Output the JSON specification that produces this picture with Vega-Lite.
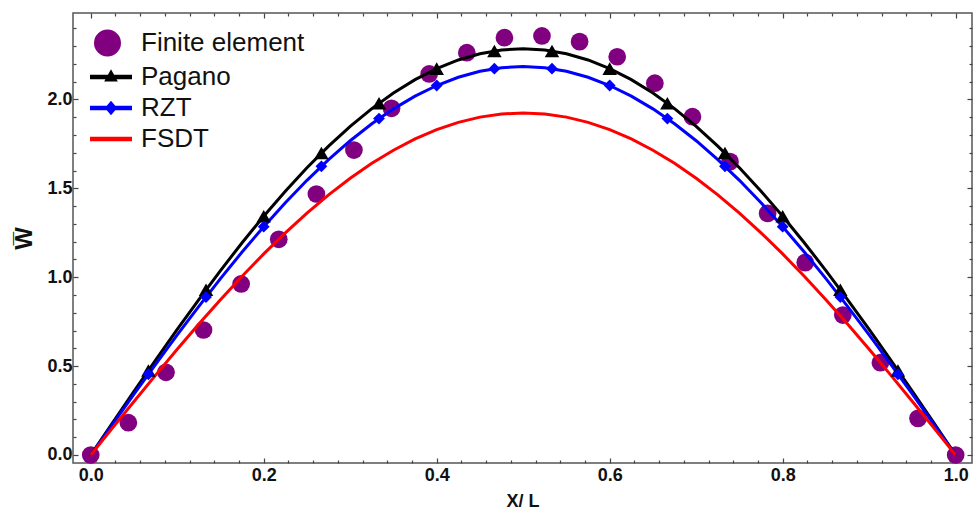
{
  "$schema": "https://vega.github.io/schema/vega-lite/v6.json",
  "width": 899,
  "height": 450,
  "autosize": "none",
  "padding": {"left": 73, "top": 13, "right": 1, "bottom": 47},
  "background": "white",
  "config": {
    "view": {"stroke": "#555555", "strokeWidth": 1.5},
    "font": "Liberation Sans"
  },
  "datasets": {
    "fe": [
      {"x": 0, "w": 0}, {"x": 0.0435, "w": 0.182}, {"x": 0.087, "w": 0.465}, {"x": 0.1304, "w": 0.703},
      {"x": 0.1739, "w": 0.962}, {"x": 0.2174, "w": 1.213}, {"x": 0.2609, "w": 1.468}, {"x": 0.3043, "w": 1.715},
      {"x": 0.3478, "w": 1.95}, {"x": 0.3913, "w": 2.143}, {"x": 0.4348, "w": 2.263}, {"x": 0.4783, "w": 2.347},
      {"x": 0.5217, "w": 2.357}, {"x": 0.5652, "w": 2.325}, {"x": 0.6087, "w": 2.24}, {"x": 0.6522, "w": 2.091},
      {"x": 0.6957, "w": 1.903}, {"x": 0.7391, "w": 1.65}, {"x": 0.7826, "w": 1.359}, {"x": 0.8261, "w": 1.082},
      {"x": 0.8696, "w": 0.787}, {"x": 0.913, "w": 0.519}, {"x": 0.9565, "w": 0.206}, {"x": 1.0, "w": 0}
    ],
    "curves": [
      {"x": 0, "Pagano": 0, "RZT": 0, "FSDT": 0},
      {"x": 0.025, "Pagano": 0.1793, "RZT": 0.1714, "FSDT": 0.151},
      {"x": 0.05, "Pagano": 0.3575, "RZT": 0.3418, "FSDT": 0.301},
      {"x": 0.075, "Pagano": 0.5334, "RZT": 0.5101, "FSDT": 0.4491},
      {"x": 0.1, "Pagano": 0.7061, "RZT": 0.6752, "FSDT": 0.5945},
      {"x": 0.125, "Pagano": 0.8744, "RZT": 0.8362, "FSDT": 0.7363},
      {"x": 0.15, "Pagano": 1.0374, "RZT": 0.992, "FSDT": 0.8735},
      {"x": 0.175, "Pagano": 1.1939, "RZT": 1.1417, "FSDT": 1.0053},
      {"x": 0.2, "Pagano": 1.3431, "RZT": 1.2843, "FSDT": 1.1309},
      {"x": 0.225, "Pagano": 1.484, "RZT": 1.419, "FSDT": 1.2495},
      {"x": 0.25, "Pagano": 1.6157, "RZT": 1.545, "FSDT": 1.3605},
      {"x": 0.275, "Pagano": 1.7375, "RZT": 1.6615, "FSDT": 1.463},
      {"x": 0.3, "Pagano": 1.8486, "RZT": 1.7677, "FSDT": 1.5565},
      {"x": 0.325, "Pagano": 1.9483, "RZT": 1.863, "FSDT": 1.6405},
      {"x": 0.35, "Pagano": 2.036, "RZT": 1.9469, "FSDT": 1.7143},
      {"x": 0.375, "Pagano": 2.1111, "RZT": 2.0187, "FSDT": 1.7775},
      {"x": 0.4, "Pagano": 2.1732, "RZT": 2.0781, "FSDT": 1.8298},
      {"x": 0.425, "Pagano": 2.2219, "RZT": 2.1246, "FSDT": 1.8708},
      {"x": 0.45, "Pagano": 2.2569, "RZT": 2.1581, "FSDT": 1.9003},
      {"x": 0.475, "Pagano": 2.278, "RZT": 2.1783, "FSDT": 1.9181},
      {"x": 0.5, "Pagano": 2.285, "RZT": 2.185, "FSDT": 1.924},
      {"x": 0.525, "Pagano": 2.278, "RZT": 2.1783, "FSDT": 1.9181},
      {"x": 0.55, "Pagano": 2.2569, "RZT": 2.1581, "FSDT": 1.9003},
      {"x": 0.575, "Pagano": 2.2219, "RZT": 2.1246, "FSDT": 1.8708},
      {"x": 0.6, "Pagano": 2.1732, "RZT": 2.0781, "FSDT": 1.8298},
      {"x": 0.625, "Pagano": 2.1111, "RZT": 2.0187, "FSDT": 1.7775},
      {"x": 0.65, "Pagano": 2.036, "RZT": 1.9469, "FSDT": 1.7143},
      {"x": 0.675, "Pagano": 1.9483, "RZT": 1.863, "FSDT": 1.6405},
      {"x": 0.7, "Pagano": 1.8486, "RZT": 1.7677, "FSDT": 1.5565},
      {"x": 0.725, "Pagano": 1.7375, "RZT": 1.6615, "FSDT": 1.463},
      {"x": 0.75, "Pagano": 1.6157, "RZT": 1.545, "FSDT": 1.3605},
      {"x": 0.775, "Pagano": 1.484, "RZT": 1.419, "FSDT": 1.2495},
      {"x": 0.8, "Pagano": 1.3431, "RZT": 1.2843, "FSDT": 1.1309},
      {"x": 0.825, "Pagano": 1.1939, "RZT": 1.1417, "FSDT": 1.0053},
      {"x": 0.85, "Pagano": 1.0374, "RZT": 0.992, "FSDT": 0.8735},
      {"x": 0.875, "Pagano": 0.8744, "RZT": 0.8362, "FSDT": 0.7363},
      {"x": 0.9, "Pagano": 0.7061, "RZT": 0.6752, "FSDT": 0.5945},
      {"x": 0.925, "Pagano": 0.5334, "RZT": 0.5101, "FSDT": 0.4491},
      {"x": 0.95, "Pagano": 0.3575, "RZT": 0.3418, "FSDT": 0.301},
      {"x": 0.975, "Pagano": 0.1793, "RZT": 0.1714, "FSDT": 0.151},
      {"x": 1.0, "Pagano": 0, "RZT": 0, "FSDT": 0}
    ],
    "markers": [
      {"x": 0.0667, "Pagano": 0.4751, "RZT": 0.4543},
      {"x": 0.1333, "Pagano": 0.9294, "RZT": 0.8887},
      {"x": 0.2, "Pagano": 1.3431, "RZT": 1.2843},
      {"x": 0.2667, "Pagano": 1.6981, "RZT": 1.6238},
      {"x": 0.3333, "Pagano": 1.9789, "RZT": 1.8923},
      {"x": 0.4, "Pagano": 2.1732, "RZT": 2.0781},
      {"x": 0.4667, "Pagano": 2.2725, "RZT": 2.173},
      {"x": 0.5333, "Pagano": 2.2725, "RZT": 2.173},
      {"x": 0.6, "Pagano": 2.1732, "RZT": 2.0781},
      {"x": 0.6667, "Pagano": 1.9789, "RZT": 1.8923},
      {"x": 0.7333, "Pagano": 1.6981, "RZT": 1.6238},
      {"x": 0.8, "Pagano": 1.3431, "RZT": 1.2843},
      {"x": 0.8667, "Pagano": 0.9294, "RZT": 0.8887},
      {"x": 0.9333, "Pagano": 0.4751, "RZT": 0.4543}
    ]
  },
  "layer": [
    {
      "encoding": {
        "x": {
          "field": "x", "type": "quantitative",
          "scale": {"domain": [-0.0205, 1.0189], "nice": false, "zero": false},
          "axis": {
            "title": "X/ L",
            "values": [0, 0.028571, 0.057143, 0.085714, 0.114286, 0.142857, 0.171429, 0.2, 0.228571, 0.257143, 0.285714, 0.314286, 0.342857, 0.371429, 0.4, 0.428571, 0.457143, 0.485714, 0.514286, 0.542857, 0.571429, 0.6, 0.628571, 0.657143, 0.685714, 0.714286, 0.742857, 0.771429, 0.8, 0.828571, 0.857143, 0.885714, 0.914286, 0.942857, 0.971429, 1.0],
            "grid": false, "domain": false,
            "labelExpr": "abs(datum.value*5-round(datum.value*5))<0.001 ? format(datum.value,'.1f') : ''",
            "tickSize": {"condition": {"test": "abs(datum.value*5-round(datum.value*5))<0.001", "value": -5}, "value": -3},
            "tickColor": "#444444", "tickWidth": 1.2,
            "labelFont": "Liberation Sans", "labelFontSize": 18, "labelFontWeight": "bold", "labelColor": "#111111",
            "labelPadding": 8, "labelFlush": false, "labelOverlap": false,
            "titleFont": "Liberation Sans", "titleFontSize": 18, "titleFontWeight": "bold", "titleColor": "#111111", "titlePadding": 6
          }
        },
        "y": {
          "field": "w", "type": "quantitative",
          "scale": {"domain": [-0.045, 2.486], "nice": false, "zero": false},
          "axis": {
            "title": "W\u0305",
            "values": [0, 0.1, 0.2, 0.3, 0.4, 0.5, 0.6, 0.7, 0.8, 0.9, 1.0, 1.1, 1.2, 1.3, 1.4, 1.5, 1.6, 1.7, 1.8, 1.9, 2.0, 2.1, 2.2, 2.3, 2.4],
            "grid": false, "domain": false,
            "labelExpr": "abs(datum.value*2-round(datum.value*2))<0.001 ? format(datum.value,'.1f') : ''",
            "tickSize": {"condition": {"test": "abs(datum.value*2-round(datum.value*2))<0.001", "value": -5}, "value": -3},
            "tickColor": "#444444", "tickWidth": 1.2,
            "labelFont": "Liberation Sans", "labelFontSize": 18, "labelFontWeight": "bold", "labelColor": "#111111",
            "labelPadding": 6, "labelFlush": false, "labelOverlap": false,
            "titleFont": "Liberation Sans", "titleFontSize": 24, "titleFontWeight": "bold", "titleColor": "#111111", "titlePadding": 10
          }
        }
      },
      "layer": [
        {
          "data": {"name": "fe"},
          "mark": {"type": "circle", "size": 314, "color": "#800080", "opacity": 1}
        },
        {
          "data": {"name": "curves"},
          "transform": [{"fold": ["Pagano", "RZT", "FSDT"], "as": ["series", "w"]}],
          "mark": {"type": "line", "strokeWidth": 3},
          "encoding": {
            "color": {"field": "series", "type": "nominal", "scale": {"domain": ["Pagano", "RZT", "FSDT"], "range": ["#000000", "#0000ff", "#ff0000"]}, "legend": null}
          }
        },
        {
          "data": {"name": "markers"},
          "transform": [{"fold": ["Pagano"], "as": ["series", "w"]}],
          "mark": {"type": "point", "shape": "triangle-up", "filled": true, "opacity": 1, "size": 210, "color": "#000000"}
        },
        {
          "data": {"name": "markers"},
          "transform": [{"fold": ["RZT"], "as": ["series", "w"]}],
          "mark": {"type": "point", "shape": "diamond", "filled": true, "opacity": 1, "size": 140, "color": "#0000ff"}
        },
        {
          "data": {"name": "curves"},
          "transform": [{"fold": ["Pagano", "RZT", "FSDT"], "as": ["series", "w"]}, {"filter": "datum.x > 5"}],
          "mark": {"type": "point", "filled": true, "opacity": 1, "strokeWidth": 4.5, "strokeJoin": "round"},
          "encoding": {
            "fill": {"field": "series", "type": "nominal",
              "scale": {"domain": ["Finite element", "Pagano", "RZT", "FSDT"], "range": ["#800080", "#000000", "#0000ff", "#ff0000"]},
              "legend": {"title": null, "orient": "none", "legendX": 25, "legendY": 17, "padding": 0, "symbolSize": 400, "symbolStrokeWidth": 4.5, "labelFont": "Liberation Sans", "labelFontSize": 26, "labelColor": "#111111", "labelOffset": 17, "labelLimit": 600, "rowPadding": -12}},
            "stroke": {"field": "series", "type": "nominal",
              "scale": {"domain": ["Finite element", "Pagano", "RZT", "FSDT"], "range": ["#800080", "#000000", "#0000ff", "#ff0000"]},
              "legend": {"title": null, "orient": "none", "legendX": 25, "legendY": 17, "padding": 0, "symbolSize": 400, "symbolStrokeWidth": 4.5, "labelFont": "Liberation Sans", "labelFontSize": 26, "labelColor": "#111111", "labelOffset": 17, "labelLimit": 600, "rowPadding": -12}},
            "shape": {"field": "series", "type": "nominal",
              "scale": {"domain": ["Finite element", "Pagano", "RZT", "FSDT"], "range": [
                "M-1.475,0A1.125,1.125,0,1,0,0.775,0A1.125,1.125,0,1,0,-1.475,0Z",
                "M0,-0.9M0,0.9M-2.1,0H2.1M0,-0.32L0.3,0.22L-0.3,0.22Z",
                "M0,-0.9M0,0.9M-2.1,0H2.1M0,-0.38L0.32,0L0,0.38L-0.32,0Z",
                "M0,-0.9M0,0.9M-2.1,0H2.1"]},
              "legend": {"title": null, "orient": "none", "legendX": 25, "legendY": 17, "padding": 0, "symbolSize": 400, "symbolStrokeWidth": 4.5, "labelFont": "Liberation Sans", "labelFontSize": 26, "labelColor": "#111111", "labelOffset": 17, "labelLimit": 600, "rowPadding": -12}}
          }
        }
      ]
    },
    {
      "data": {"name": "fe"},
      "transform": [{"filter": "datum.x > 5"}],
      "mark": {"type": "point", "opacity": 0},
      "encoding": {
        "x": {
          "field": "x", "type": "quantitative",
          "scale": {"domain": [-0.0205, 1.0189], "nice": false, "zero": false},
          "axis": {
            "orient": "top", "title": null, "labels": false, "grid": false, "domain": false,
            "values": [0, 0.028571, 0.057143, 0.085714, 0.114286, 0.142857, 0.171429, 0.2, 0.228571, 0.257143, 0.285714, 0.314286, 0.342857, 0.371429, 0.4, 0.428571, 0.457143, 0.485714, 0.514286, 0.542857, 0.571429, 0.6, 0.628571, 0.657143, 0.685714, 0.714286, 0.742857, 0.771429, 0.8, 0.828571, 0.857143, 0.885714, 0.914286, 0.942857, 0.971429, 1.0],
            "tickSize": {"condition": {"test": "abs(datum.value*5-round(datum.value*5))<0.001", "value": -5}, "value": -3},
            "tickColor": "#444444", "tickWidth": 1.2
          }
        },
        "y": {
          "field": "w", "type": "quantitative",
          "scale": {"domain": [-0.045, 2.486], "nice": false, "zero": false},
          "axis": {
            "orient": "right", "title": null, "labels": false, "grid": false, "domain": false,
            "values": [0, 0.1, 0.2, 0.3, 0.4, 0.5, 0.6, 0.7, 0.8, 0.9, 1.0, 1.1, 1.2, 1.3, 1.4, 1.5, 1.6, 1.7, 1.8, 1.9, 2.0, 2.1, 2.2, 2.3, 2.4],
            "tickSize": {"condition": {"test": "abs(datum.value*2-round(datum.value*2))<0.001", "value": -5}, "value": -3},
            "tickColor": "#444444", "tickWidth": 1.2
          }
        }
      }
    }
  ],
  "resolve": {"axis": {"x": "independent", "y": "independent"}}
}
